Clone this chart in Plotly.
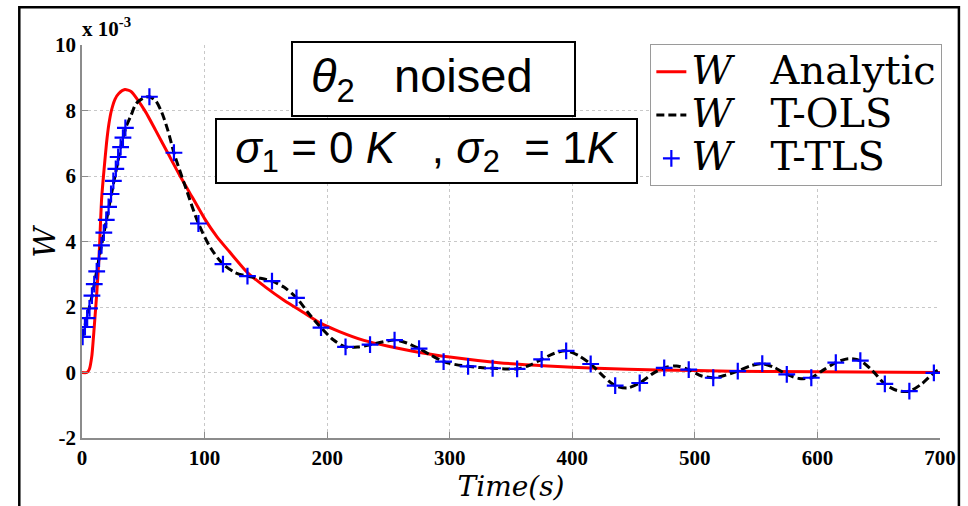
import plotly.graph_objects as go

# ---- data (W values in units of 1e-3) ----
t_analytic = [0, 4, 6, 8, 10, 12, 14, 16, 18, 20, 22, 24, 27, 30, 35, 40, 45, 52, 60, 70,
              80, 90, 100, 110, 120, 135, 150, 165, 180, 195, 210, 230, 250, 270, 300,
              340, 380, 420, 470, 530, 600, 700]
w_analytic = [0, 0, 0.1, 0.5, 1.4, 2.4, 3.6, 5.3, 6.2, 7.0, 7.6, 8.0, 8.35, 8.52, 8.64, 8.58,
              8.35, 7.95, 7.4, 6.7, 6.0, 5.35, 4.7, 4.15, 3.7, 3.05, 2.6, 2.2, 1.85, 1.5,
              1.25, 0.98, 0.8, 0.65, 0.47, 0.3, 0.2, 0.13, 0.08, 0.04, 0.02, 0.0]

t_ols = [0.5, 4, 8, 12, 16, 20, 24, 28, 32, 36, 40, 44, 50, 55, 60, 65, 70, 75, 85, 95,
         105, 115, 125, 135, 145, 155, 165, 175, 185, 195, 205, 215, 225, 235, 245, 255,
         265, 275, 285, 295, 305, 315, 325, 335, 345, 355, 365, 375, 385, 395, 405, 415,
         425, 435, 445, 455, 465, 475, 485, 495, 505, 515, 525, 535, 545, 555, 565, 575,
         585, 595, 605, 615, 625, 635, 645, 655, 665, 675, 685, 695, 700]
w_ols = [1.09, 1.7, 2.3, 3.1, 3.9, 4.66, 5.45, 6.2, 6.95, 7.5, 7.85, 8.2, 8.38, 8.42,
         8.3, 7.95, 7.4, 6.71, 5.6, 4.55, 3.8, 3.31, 3.05, 2.94, 2.88, 2.79, 2.6, 2.28,
         1.8, 1.37, 1.0, 0.78, 0.78, 0.85, 0.93, 0.99, 0.9, 0.73, 0.52, 0.33, 0.24, 0.19,
         0.15, 0.13, 0.11, 0.11, 0.22, 0.40, 0.58, 0.66, 0.52, 0.26, -0.1, -0.40, -0.47,
         -0.32, -0.05, 0.14, 0.2, 0.09, -0.1, -0.16, -0.08, 0.04, 0.2, 0.27, 0.15, -0.06,
         -0.18, -0.16, 0.08, 0.30, 0.42, 0.36, 0.05, -0.35, -0.55, -0.57, -0.35, -0.01, 0.1]

t_tls = [0.5, 2.4, 4.2, 6.1, 8.1, 10.0, 12.0, 13.9, 15.9, 17.8, 19.8, 21.7, 23.7, 25.6,
         27.6, 29.5, 31.5, 33.4, 35.4, 55, 75, 95, 115, 135, 155, 175, 195, 215, 235, 255,
         275, 295, 315, 335, 355, 375, 395, 415, 435, 455, 475, 495, 515, 535, 555, 575,
         595, 615, 635, 655, 675, 695]
w_tls = [1.09, 1.39, 1.66, 1.96, 2.35, 2.70, 3.09, 3.48, 3.88, 4.27, 4.66, 5.06, 5.45,
         5.85, 6.22, 6.58, 6.88, 7.17, 7.47, 8.42, 6.71, 4.55, 3.31, 2.94, 2.79, 2.28,
         1.37, 0.78, 0.85, 0.99, 0.73, 0.33, 0.19, 0.13, 0.11, 0.40, 0.66, 0.26, -0.40,
         -0.32, 0.14, 0.09, -0.16, 0.04, 0.27, -0.06, -0.16, 0.30, 0.36, -0.35, -0.57, -0.01]

x_ticks = [0, 100, 200, 300, 400, 500, 600, 700]
y_ticks = [-2, 0, 2, 4, 6, 8, 10]

legend_names = ["Analytic", "T-OLS", "T-TLS"]

# ---- figure ----
W, H = 968, 506
L, R, T, B = 82, 24, 45, 55
pw, ph = W - L - R, H - T - B
SERIF = "Liberation Serif, Times New Roman, Tinos, serif"


def px2paper(x, y):
    return (x - L) / pw, (H - B - y) / ph


def lname(s):
    return '<span style="font-size:40px"><i>W</i>&nbsp;&nbsp; ' + s + '</span>'


fig = go.Figure()
fig.add_trace(go.Scatter(x=t_analytic, y=w_analytic, mode="lines", name=lname(legend_names[0]),
                         line=dict(color="#ff0000", width=3, shape="spline", smoothing=0.6)))
fig.add_trace(go.Scatter(x=t_ols, y=w_ols, mode="lines", name=lname(legend_names[1]),
                         line=dict(color="#000000", width=3, dash="8px,4px", shape="spline",
                                   smoothing=0.8)))
fig.add_trace(go.Scatter(x=t_tls, y=w_tls, mode="markers", name=lname(legend_names[2]),
                         marker=dict(symbol="cross-thin", size=12, color="#0000ff",
                                     line=dict(color="#0000ff", width=2.2))))

axis_common = dict(showline=True, linecolor="#8c8c8c", linewidth=1.5, mirror=False,
                   ticks="inside", ticklen=6, tickcolor="#8c8c8c", tickwidth=1.2,
                   showgrid=True, gridcolor="#c8c8c8", griddash="dot", gridwidth=1,
                   zeroline=False,
                   tickfont=dict(family=SERIF, size=21, color="black"))

fig.update_xaxes(range=[0, 700], tickvals=x_ticks,
                 ticktext=["<b>%d</b>" % v for v in x_ticks], **axis_common,
                 title=dict(text="<i>Time(s)</i>", standoff=4,
                            font=dict(family="DejaVu Serif", size=28, color="black")))
fig.update_yaxes(range=[-2, 10], tickvals=y_ticks,
                 ticktext=["<b>%d</b>" % v for v in y_ticks], **axis_common)

lx, ly = px2paper(653, 44)
fig.update_layout(
    width=W, height=H,
    margin=dict(l=L, r=R, t=T, b=B),
    paper_bgcolor="white", plot_bgcolor="white",
    legend=dict(x=lx, y=ly, xanchor="left", yanchor="top", bgcolor="white",
                bordercolor="#9a9a9a", borderwidth=1,
                font=dict(family="DejaVu Serif", size=31, color="black")),
)

# y-axis title
yx, yy = px2paper(44, 248)
fig.add_annotation(x=yx, y=yy, xref="paper", yref="paper", xanchor="center", yanchor="middle",
                   text="<i>W</i>", textangle=-90, showarrow=False,
                   font=dict(family="DejaVu Serif", size=30, color="black"))

# outer frame
fx0, fy0 = px2paper(19, 530)
fx1, fy1 = px2paper(963, 6)
fig.add_shape(type="rect", xref="paper", yref="paper", x0=fx0, y0=fy0, x1=fx1, y1=fy1,
              line=dict(color="black", width=2.5), layer="above")

# exponent label
ex, ey = px2paper(80, 43)
fig.add_annotation(x=ex, y=ey, xref="paper", yref="paper", xanchor="left", yanchor="bottom",
                   text="<b>x 10<sup>-3</sup></b>", showarrow=False,
                   font=dict(family=SERIF, size=21, color="black"))

# text boxes
b1x, b1y = px2paper(435, 80.5)
fig.add_annotation(x=b1x, y=b1y, xref="paper", yref="paper", showarrow=False,
                   xanchor="center", yanchor="middle",
                   text="&nbsp;<i>θ</i><sub>2</sub>   noised", align="left", width=271, height=62,
                   font=dict(family="Liberation Sans", size=47, color="black"),
                   bgcolor="white", bordercolor="black", borderwidth=2, borderpad=5)
b2x, b2y = px2paper(428.5, 155)
fig.add_annotation(x=b2x, y=b2y, xref="paper", yref="paper", showarrow=False,
                   xanchor="center", yanchor="middle",
                   text="<i>σ</i><sub>1</sub> = 0 <i>K</i>   , <i>σ</i><sub>2</sub>  = 1<i>K</i>",
                   align="center", width=409, height=52,
                   font=dict(family="Liberation Sans", size=44, color="black"),
                   bgcolor="white", bordercolor="black", borderwidth=2, borderpad=5)

fig.write_html("out.html")
